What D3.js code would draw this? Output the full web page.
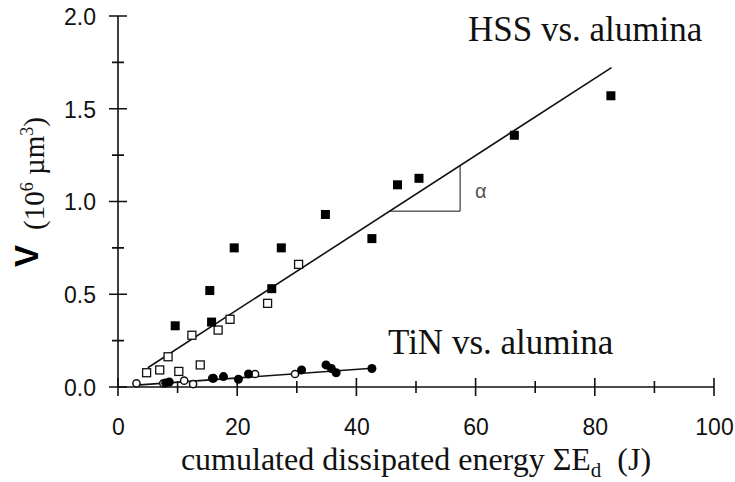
<!DOCTYPE html>
<html><head><meta charset="utf-8">
<script src="https://cdn.jsdelivr.net/npm/d3@7"></script>
<style>body{margin:0;background:#fff}svg{display:block}</style>
</head><body>
<svg id="c" width="735" height="482"></svg>
<script>
// ---- data ----
const hssFilledE = [9.6, 15.4, 15.7, 19.5, 25.8, 27.4, 34.8, 42.6, 46.9, 50.5, 66.5, 82.7];
const hssFilledV = [0.33, 0.52, 0.35, 0.75, 0.53, 0.75, 0.93, 0.80, 1.09, 1.125, 1.357, 1.57];
const hssOpenE = [4.8, 7.0, 8.4, 10.2, 12.4, 13.8, 16.8, 18.8, 25.1, 30.3];
const hssOpenV = [0.077, 0.092, 0.163, 0.084, 0.279, 0.119, 0.307, 0.365, 0.451, 0.661];
const tinFilledE = [8.0, 8.6, 16.0, 17.7, 20.2, 21.9, 30.8, 34.9, 35.8, 36.6, 42.6];
const tinFilledV = [0.022, 0.027, 0.047, 0.056, 0.042, 0.070, 0.092, 0.119, 0.100, 0.077, 0.100];
const tinOpenE = [3.1, 7.6, 11.1, 12.6, 15.8, 23.0, 29.7];
const tinOpenV = [0.020, 0.020, 0.034, 0.016, 0.047, 0.070, 0.070];
const hssFitE = [5, 82.8];
const hssFitV = [0.104, 1.722];
const tinFitE = [3.1, 42.6];
const tinFitV = [0.010, 0.101];
const slopeTriE = [45.6, 57.4];
const slopeTriV = [0.948, 1.194];
const xMajor = [0, 20, 40, 60, 80, 100];
const xMinor = [10, 30, 50, 70, 90];
const yMajor = [0, 0.5, 1.0, 1.5, 2.0];
const yMinor = [0.25, 0.75, 1.25, 1.75];
const yTickLabels = ["0.0", "0.5", "1.0", "1.5", "2.0"];

// ---- drawing ----
const svg = d3.select("#c");
const x = d3.scaleLinear().domain([0, 100]).range([118, 714]);
const y = d3.scaleLinear().domain([0, 2]).range([387, 16]);
const sans = "Liberation Sans, Arial, sans-serif";
const serif = "Liberation Serif, Times New Roman, serif";
const ink = "#111";

// axis labels via d3 axes
const gx = svg.append("g").attr("transform", `translate(0,${y(0)})`)
  .call(d3.axisBottom(x).tickValues(xMajor).tickSize(0).tickPadding(0).tickFormat(d3.format("d")));
gx.select(".domain").remove();
gx.selectAll(".tick line").remove();
gx.selectAll(".tick text").attr("y", 32).attr("dy", "0.71em").attr("font-size", 23).attr("font-family", sans).attr("fill", ink);
const gy = svg.append("g").attr("transform", `translate(${x(0)},0)`)
  .call(d3.axisLeft(y).tickValues(yMajor).tickSize(0).tickPadding(0).tickFormat((d, i) => yTickLabels[i]));
gy.select(".domain").remove();
gy.selectAll(".tick line").remove();
gy.selectAll(".tick text").attr("x", -22).attr("dy", "0.36em").attr("font-size", 23).attr("font-family", sans).attr("fill", ink);

// tick marks crossing the axes, as one path
let tp = "";
xMajor.forEach(d => { tp += `M${x(d)},${y(0) - 9}V${y(0) + 9}`; });
xMinor.forEach(d => { tp += `M${x(d)},${y(0) - 6}V${y(0) + 6}`; });
yMajor.forEach(d => { tp += `M${x(0) - 9},${y(d)}H${x(0) + 9}`; });
yMinor.forEach(d => { tp += `M${x(0) - 6},${y(d)}H${x(0) + 6}`; });
svg.append("path").attr("d", tp).attr("fill", "none").attr("stroke", ink).attr("stroke-width", 1.6);
svg.append("path").attr("d", `M${x(0)},${y(2)}V${y(0)}H${x(100)}`).attr("fill", "none").attr("stroke", ink).attr("stroke-width", 1.6);

// fit lines
const line = d3.line().x(d => x(d[0])).y(d => y(d[1]));
svg.append("path").attr("d", line(hssFitE.map((e, i) => [e, hssFitV[i]]))).attr("stroke", ink).attr("stroke-width", 1.6).attr("fill", "none");
svg.append("path").attr("d", line(tinFitE.map((e, i) => [e, tinFitV[i]]))).attr("stroke", ink).attr("stroke-width", 1.6).attr("fill", "none");
// slope triangle
svg.append("path").attr("d", line([[slopeTriE[0], slopeTriV[0]], [slopeTriE[1], slopeTriV[0]], [slopeTriE[1], slopeTriV[1]]]))
  .attr("stroke", ink).attr("stroke-width", 1).attr("fill", "none");
svg.append("text").attr("x", x(slopeTriE[1]) + 15).attr("y", 198).text("α")
  .attr("font-family", sans).attr("font-size", 20).attr("fill", "#555");

// markers
const zip = (a, b) => a.map((v, i) => [v, b[i]]);
svg.append("g").selectAll("rect").data(zip(hssOpenE, hssOpenV)).join("rect")
  .attr("x", d => x(d[0]) - 4).attr("y", d => y(d[1]) - 4).attr("width", 8).attr("height", 8)
  .attr("fill", "#fff").attr("stroke", ink).attr("stroke-width", 1.3);
svg.append("g").selectAll("rect").data(zip(hssFilledE, hssFilledV)).join("rect")
  .attr("x", d => x(d[0]) - 4.5).attr("y", d => y(d[1]) - 4.5).attr("width", 9).attr("height", 9)
  .attr("fill", "#000");
svg.append("g").selectAll("circle").data(zip(tinOpenE, tinOpenV)).join("circle")
  .attr("cx", d => x(d[0])).attr("cy", d => y(d[1])).attr("r", 3.6)
  .attr("fill", "#fff").attr("stroke", ink).attr("stroke-width", 1.5);
svg.append("g").selectAll("circle").data(zip(tinFilledE, tinFilledV)).join("circle")
  .attr("cx", d => x(d[0])).attr("cy", d => y(d[1])).attr("r", 4.5).attr("fill", "#000");

// labels
svg.append("text").attr("x", 468).attr("y", 41).text("HSS vs. alumina")
  .attr("font-family", serif).attr("font-size", 35).attr("fill", ink);
svg.append("text").attr("x", 388).attr("y", 354).text("TiN vs. alumina")
  .attr("font-family", serif).attr("font-size", 35).attr("fill", ink);

const xt = svg.append("text").attr("x", 416).attr("y", 470).attr("text-anchor", "middle")
  .attr("font-family", serif).attr("font-size", 32).attr("fill", ink);
xt.append("tspan").text("cumulated dissipated energy ΣE");
xt.append("tspan").attr("font-size", 21).attr("dy", 7).text("d");
xt.append("tspan").attr("dy", -7).text("\u00a0\u00a0(J)");

svg.append("text").attr("transform", "translate(38,256) rotate(-90)").attr("text-anchor", "middle")
  .attr("font-family", sans).attr("font-weight", "bold").attr("font-size", 33).attr("fill", "#000").text("V");
const yt = svg.append("text").attr("transform", "translate(44,230) rotate(-90)")
  .attr("font-family", serif).attr("font-size", 29).attr("fill", ink);
yt.append("tspan").text("(10");
yt.append("tspan").attr("font-size", 18).attr("dy", -11).text("6");
yt.append("tspan").attr("dy", 11).text("\u00a0µm");
yt.append("tspan").attr("font-size", 18).attr("dy", -11).text("3");
yt.append("tspan").attr("dy", 11).text(")");
</script>
</body></html>
